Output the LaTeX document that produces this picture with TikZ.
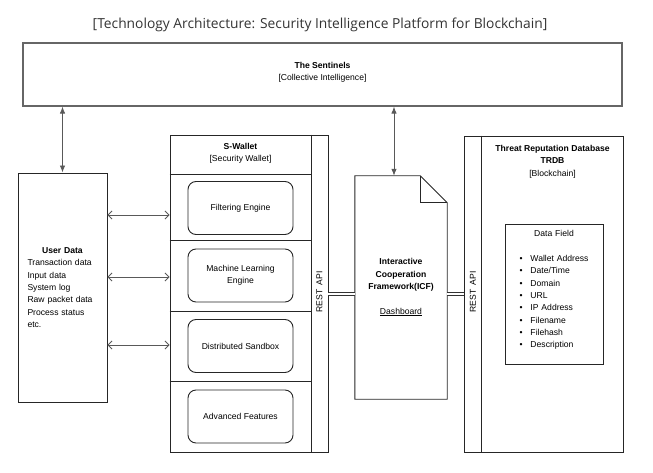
\documentclass[tikz,border=0pt]{standalone}
\usepackage{fontspec}
\setmainfont{Liberation Sans}
\newfontfamily\headfont{Open Sans}
\usetikzlibrary{positioning,arrows.meta}

\begin{document}
\begin{tikzpicture}[x=1pt,y=-1pt,
    every node/.style={font=\fontsize{8.6}{12.3}\selectfont, inner sep=0pt},
    box/.style={draw=black!85, line width=0.9pt},
    engine/.style={draw=black!85, line width=0.9pt, rounded corners=8pt, minimum width=105pt, minimum height=53pt, align=center},
    link/.style={draw=black!65, line width=0.9pt},
    restlink/.style={draw=black!80, line width=0.7pt, double, double distance=2.5pt}]

\useasboundingbox (0,0) rectangle (653,473);

\node[font=\headfont\fontsize{13.8}{16}\selectfont, text=black!80] (title) at (320,25) {[Technology Architecture: Security Intelligence Platform for Blockchain]};

\node[box, draw=black!60, line width=1.2pt, minimum width=599pt, minimum height=63pt, align=center] (sentinels) at (322.5,74.5) {\textbf{The Sentinels}\\ {[Collective Intelligence]}\\[-6.3pt]\mbox{}};

% user data
\node[box, minimum width=89pt, minimum height=229pt, text width=70pt, align=left] (userdata) at (62.5,287.5) {\makebox[70pt]{\textbf{User Data}}\\Transaction data\\Input data\\System log\\Raw packet data\\Process status\\etc.};

% S-Wallet
\node[box, minimum width=158pt, minimum height=317pt] (swallet) at (249,293.5) {};
\node[align=center] (swhead) at (240.5,153.5) {\textbf{S-Wallet}\\ {[Security Wallet]}};
\draw[box] ([xshift=-17pt]swallet.north east) -- ([xshift=-17pt]swallet.south east);
\foreach \y in {174,240,311,381} {
    \draw[box] (swallet.west |- 0,\y) -- (311,\y);
}
\foreach \name/\engine/\y in {filter/Filtering Engine/208, mle/Machine Learning\\Engine/275.5, sandbox/Distributed Sandbox/346, advanced/Advanced Features/416.5} {
    \node[engine] (\name) at (240.5,\y) {\engine};
}
\node[rotate=90] (swapi) at (319.5,292) {REST\enspace API};

% ICF
\node[minimum width=92pt, minimum height=223pt, align=center] (icf) at (401,287.5) {\textbf{Interactive}\\\textbf{Cooperation}\\\textbf{Framework(ICF)}\\[12.3pt]\underline{Dashboard}};
\draw[box] (icf.north west) -- ([xshift=-27pt]icf.north east) -- ([yshift=-27pt]icf.north east) -- (icf.south east) -- (icf.south west) -- cycle;
\draw[box] ([xshift=-27pt]icf.north east) -- ([xshift=-27pt,yshift=-27pt]icf.north east) -- ([yshift=-27pt]icf.north east);

% TRDB
\node[box, minimum width=159pt, minimum height=316pt] (trdb) at (543.5,294) {};
\draw[box] ([xshift=18pt]trdb.north west) -- ([xshift=18pt]trdb.south west);
\node[align=center] (trdbhead) at (552.5,161.5) {\textbf{Threat Reputation Database}\\\textbf{TRDB}\\ {[Blockchain]}};
\node[rotate=90] (trdbapi) at (473,292) {REST\enspace API};
\node[box, minimum width=98pt, minimum height=140pt] (datafield) at (554,294) {};
\node[anchor=north, text width=69pt, align=left, yshift=-7pt] (fields) at (datafield.north) {\makebox[69pt]{Data Field}\\[12.3pt]
    \makebox[11pt][l]{\textbullet}Wallet Address\\\makebox[11pt][l]{\textbullet}Date/Time\\\makebox[11pt][l]{\textbullet}Domain\\\makebox[11pt][l]{\textbullet}URL\\\makebox[11pt][l]{\textbullet}IP Address\\\makebox[11pt][l]{\textbullet}Filename\\\makebox[11pt][l]{\textbullet}Filehash\\\makebox[11pt][l]{\textbullet}Description};

% connectors
\coordinate (icftop) at ([xshift=-7pt]icf.north);
\coordinate (api) at (0,294);
\draw[link, {Latex[length=7pt,width=5.5pt]}-{Latex[length=7pt,width=5.5pt]}] (sentinels.south -| userdata.north) -- (userdata.north);
\draw[link, {Latex[length=7pt,width=5.5pt]}-{Latex[length=7pt,width=5.5pt]}] (sentinels.south -| icftop) -- (icftop);
\foreach \y in {215,277,345} {
    \draw[link, {Straight Barb[length=4pt,width=8pt]}-{Straight Barb[length=4pt,width=8pt]}] (userdata.east |- 0,\y) -- (swallet.west |- 0,\y);
}
\draw[restlink] (swallet.east |- api) -- (icf.west |- api);
\draw[restlink] (icf.east |- api) -- (trdb.west |- api);
\end{tikzpicture}
\end{document}
